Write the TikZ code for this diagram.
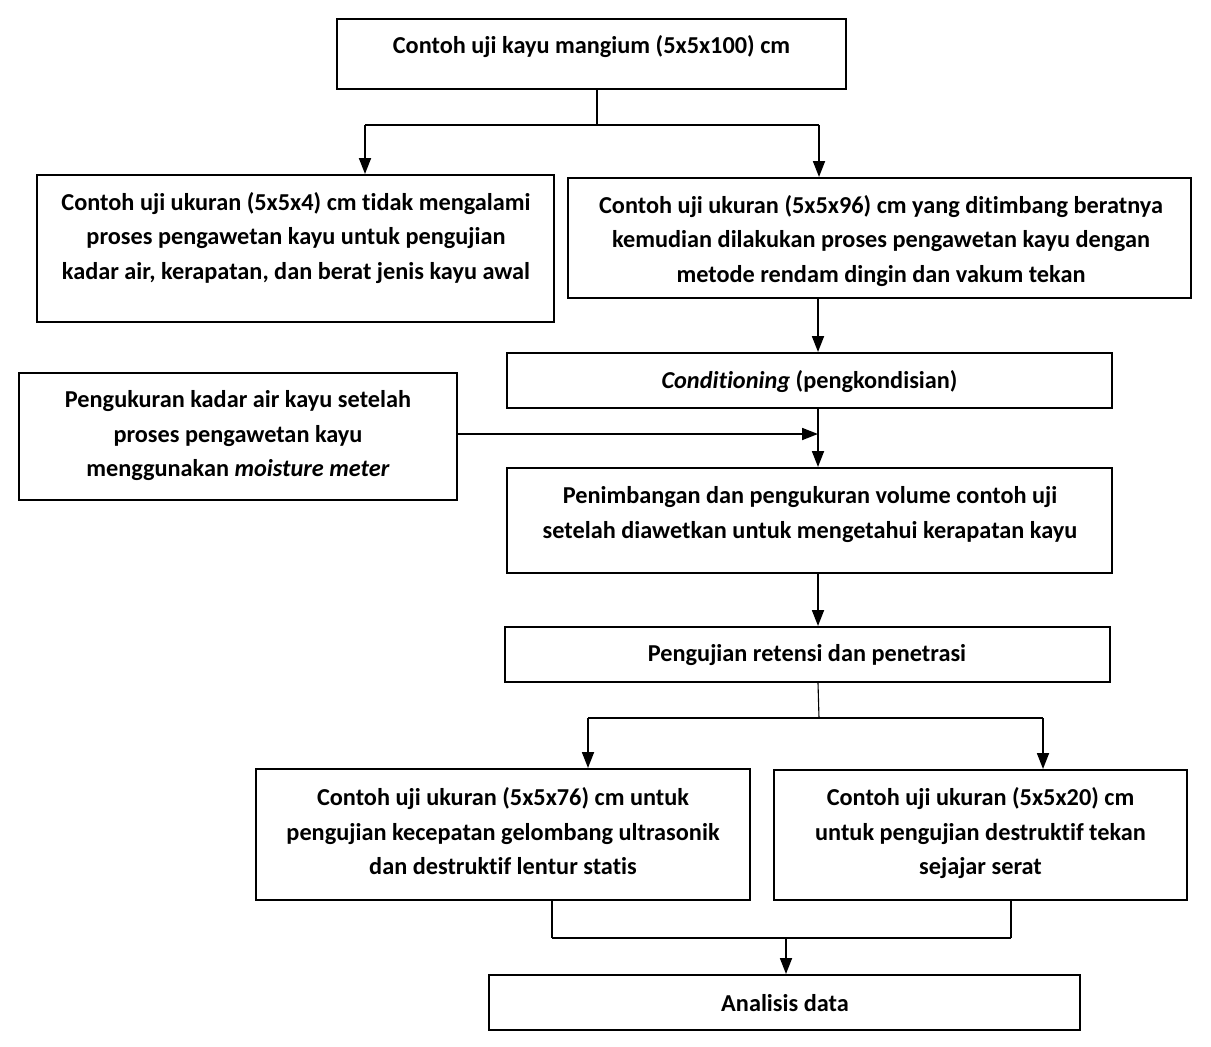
\documentclass[tikz,border=0pt]{standalone}
\usepackage{fontspec}
\setmainfont{Carlito}[Ligatures=NoCommon]
\usetikzlibrary{arrows.meta}
\begin{document}
\begin{tikzpicture}[x=1pt,y=-1pt,
  box/.style={draw, line width=2pt, inner sep=0pt},
  txt/.style={font=\bfseries\fontsize{24.3}{34.5}\selectfont, align=center, inner sep=0pt},
  conn/.style={line width=1.8pt},
  thinconn/.style={line width=1.1pt},
  arr/.style={line width=1.8pt, -{Triangle[length=16pt,width=12pt]}}]
\useasboundingbox (0,0) rectangle (1211,1047);
% boxes
\node[box, minimum width=509pt, minimum height=70pt] (top) at (591.5,54) {};
\node[txt] (topt) at (591.5,47) {Contoh uji kayu mangium (5x5x100) cm};

\node[box, minimum width=517pt, minimum height=147pt] (left) at (295.5,248.5) {};
\node[txt] (leftt) at (296,238) {Contoh uji ukuran (5x5x4) cm tidak mengalami\\proses pengawetan kayu untuk pengujian\\kadar air, kerapatan, dan berat jenis kayu awal};

\node[box, minimum width=623pt, minimum height=120pt] (right) at (879.5,238) {};
\node[txt] (rightt) at (881,241) {Contoh uji ukuran (5x5x96) cm yang ditimbang beratnya\\kemudian dilakukan proses pengawetan kayu dengan\\metode rendam dingin dan vakum tekan};

\node[box, minimum width=605pt, minimum height=55pt] (cond) at (809.5,380.5) {};
\node[txt] (condt) at (809.5,382) {\textit{Conditioning} (pengkondisian)};

\node[box, minimum width=437.5pt, minimum height=127pt] (moist) at (238,436.5) {};
\node[txt] (moistt) at (238,436) {Pengukuran kadar air kayu setelah\\proses pengawetan kayu\\menggunakan \textit{moisture meter}};

\node[box, minimum width=605pt, minimum height=105pt] (pen) at (809.5,520.5) {};
\node[txt] (pent) at (810,514.5) {Penimbangan dan pengukuran volume contoh uji\\setelah diawetkan untuk mengetahui kerapatan kayu};

\node[box, minimum width=605pt, minimum height=55pt] (ret) at (807.5,654.5) {};
\node[txt] (rett) at (807,655) {Pengujian retensi dan penetrasi};

\node[box, minimum width=494pt, minimum height=131pt] (bl) at (503,834.5) {};
\node[txt] (blt) at (503,831.5) {Contoh uji ukuran (5x5x76) cm untuk\\pengujian kecepatan gelombang ultrasonik\\dan destruktif lentur statis};

\node[box, minimum width=413pt, minimum height=130pt] (br) at (980.5,835) {};
\node[txt] (brt) at (980.5,833.5) {Contoh uji ukuran (5x5x20) cm\\untuk pengujian destruktif tekan\\sejajar serat};

\node[box, minimum width=591pt, minimum height=55pt] (ana) at (784.5,1002.5) {};
\node[txt] (anat) at (785,1003) {Analisis data};

% junction coordinates
\coordinate (j1) at (597,125);
\coordinate (j1L) at (365,125);
\coordinate (j1R) at (819,125);
\coordinate (spine) at (818,0);
\coordinate (j2) at (819,718);
\coordinate (j2L) at (588,718);
\coordinate (j2R) at (1043,718);
\coordinate (j3L) at (552,938);
\coordinate (j3R) at (1011,938);
\coordinate (j3) at (786,938);

% connectors
\draw[thinconn] (top.south -| j1) -- (j1);
\draw[conn] (j1L) -- (j1R);
\draw[arr] (j1L) -- (j1L |- left.north);
\draw[arr] (j1R) -- (j1R |- right.north);
\draw[arr] (right.south -| spine) -- (cond.north -| spine);
\draw[conn] (cond.south -| spine) -- (spine |- 0,434);
\draw[arr] (spine |- 0,434) -- (pen.north -| spine);
\draw[arr] (moist.east |- 0,434) -- (spine |- 0,434);
\draw[arr] (pen.south -| spine) -- (ret.north -| spine);
\draw[thinconn] (ret.south -| spine) -- (j2);
\draw[conn] (j2L) -- (j2R);
\draw[arr] (j2L) -- (j2L |- bl.north);
\draw[arr] (j2R) -- (j2R |- br.north);
\draw[thinconn] (bl.south -| j3L) -- (j3L);
\draw[thinconn] (br.south -| j3R) -- (j3R);
\draw[conn] (j3L) -- (j3R);
\draw[arr] (j3) -- (j3 |- ana.north);
\end{tikzpicture}
\end{document}
